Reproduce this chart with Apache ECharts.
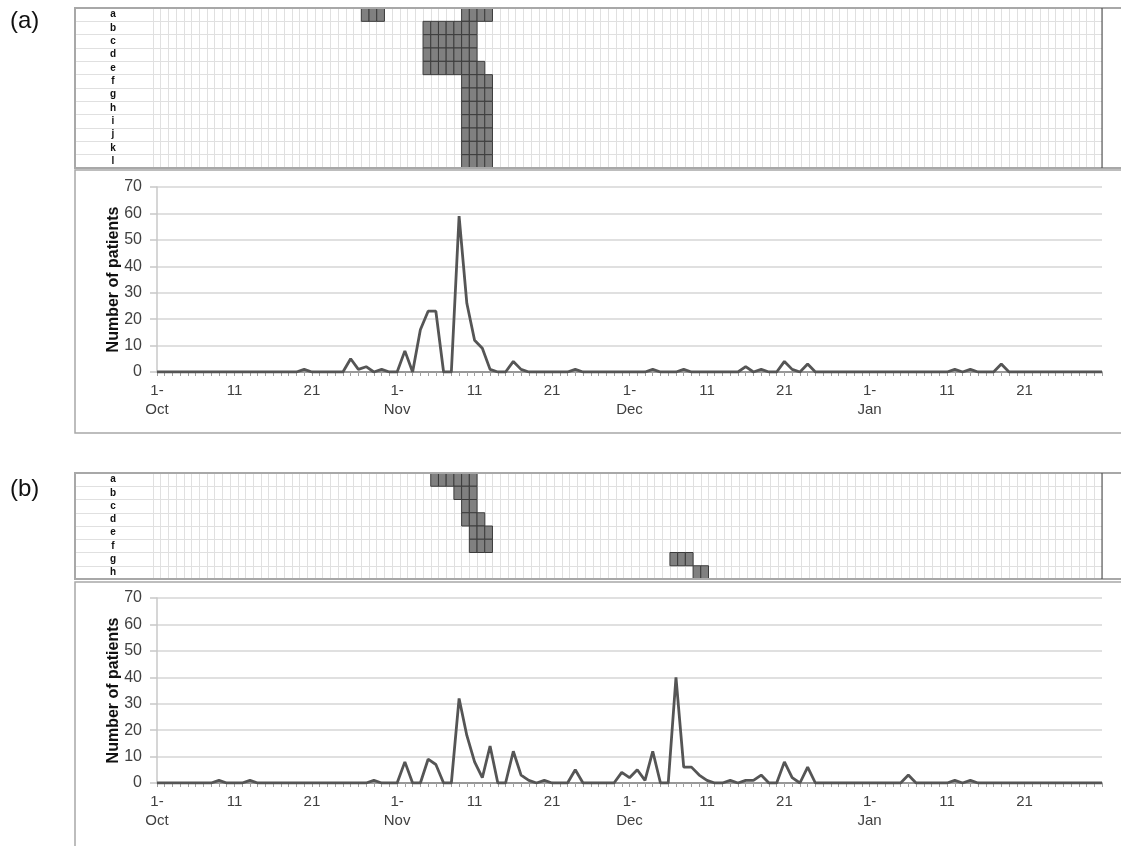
<!DOCTYPE html>
<html><head><meta charset="utf-8">
<script src="https://cdn.jsdelivr.net/npm/echarts@6/dist/echarts.min.js"></script>
<style>html,body{margin:0;padding:0;background:#fff}#c{width:1121px;height:846px}</style>
</head><body><div id="c"></div>
<script>
// ---------- data ----------
const months = ['Oct', 'Nov', 'Dec', 'Jan'];
const monthLengths = [31, 30, 31, 31];
const labelledDays = [1, 11, 21];
const yTicks = [0, 10, 20, 30, 40, 50, 60, 70];

// daily number of patients, 1 Oct .. 31 Jan (123 days)
const patientsA = [
  0,0,0,0,0,0,0,0,0,0, 0,0,0,0,0,0,0,0,0,1, 0,0,0,0,0,5,1,2,0,1, 0,
  0,8,0,16,23,23,0,0,59,26, 12,9,1,0,0,4,1,0,0,0, 0,0,0,1,0,0,0,0,0,0,
  0,0,0,1,0,0,0,1,0,0, 0,0,0,0,0,2,0,1,0,0, 4,1,0,3,0,0,0,0,0,0, 0,
  0,0,0,0,0,0,0,0,0,0, 0,1,0,1,0,0,0,3,0,0, 0,0,0,0,0,0,0,0,0,0, 0
];
const patientsB = [
  0,0,0,0,0,0,0,0,1,0, 0,0,1,0,0,0,0,0,0,0, 0,0,0,0,0,0,0,0,1,0, 0,
  0,8,0,0,9,7,0,0,32,18, 8,2,14,0,0,12,3,1,0,1, 0,0,0,5,0,0,0,0,0,4,
  2,5,1,12,0,0,40,6,6,3, 1,0,0,1,0,1,1,3,0,0, 8,2,0,6,0,0,0,0,0,0, 0,
  0,0,0,0,0,3,0,0,0,0, 0,1,0,1,0,0,0,0,0,0, 0,0,0,0,0,0,0,0,0,0, 0
];

// grid rows and the day indices (0 = 1 Oct) of the filled cells in each row
const rowsA = ['a','b','c','d','e','f','g','h','i','j','k','l'];
const cellDaysA = [
  [27,28,29,40,41,42,43],
  [35,36,37,38,39,40,41],
  [35,36,37,38,39,40,41],
  [35,36,37,38,39,40,41],
  [35,36,37,38,39,40,41,42],
  [40,41,42,43],
  [40,41,42,43],
  [40,41,42,43],
  [40,41,42,43],
  [40,41,42,43],
  [40,41,42,43],
  [40,41,42,43]
];
const rowsB = ['a','b','c','d','e','f','g','h'];
const cellDaysB = [
  [36,37,38,39,40,41],
  [39,40,41],
  [40,41],
  [40,41,42],
  [41,42,43],
  [41,42,43],
  [67,68,69],
  [70,71]
];

// ---------- build ----------
const days = [];
months.forEach((m, i) => { for (let d = 1; d <= monthLengths[i]; d++) days.push(d + '-' + m); });
const dayNum = c => +c.split('-')[0];
const dayLabel = c => dayNum(c) === 1 ? '1-\n' + c.split('-')[1] : String(dayNum(c));
const cellsOf = lists => { const out = []; lists.forEach((ds, r) => ds.forEach(d => out.push([d, r]))); return out; };

const FONT = '"Liberation Sans", Arial, sans-serif';
const W = 1121;
const panels = [
  { rows: rowsA, cells: cellsOf(cellDaysA), values: patientsA, heatTop: 8, heatH: 160, lineTop: 187, lineH: 185, boxTop: 170, boxBot: 433, tag: '(a)', tagY: 9 },
  { rows: rowsB, cells: cellsOf(cellDaysB), values: patientsB, heatTop: 473, heatH: 106, lineTop: 598, lineH: 185, boxTop: 582, boxBot: 852, tag: '(b)', tagY: 477 }
];

const grid = [], xAxis = [], yAxis = [], series = [], graphic = [];
const gridColor = '#e0e0e0';
panels.forEach((p, k) => {
  const g0 = grid.length;
  grid.push({ left: 153, right: W - 1102, top: p.heatTop, height: p.heatH });
  grid.push({ left: 75, width: 78, top: p.heatTop, height: p.heatH });
  grid.push({ left: 157, right: W - 1102, top: p.lineTop, height: p.lineH });

  xAxis.push({ type: 'category', gridIndex: g0, data: days, boundaryGap: true,
    axisLine: { show: false }, axisTick: { show: false }, axisLabel: { show: false },
    splitLine: { show: true, interval: 0, lineStyle: { color: gridColor, width: 1 } } });
  xAxis.push({ type: 'value', gridIndex: g0 + 1, show: false, min: 0, max: 1 });
  xAxis.push({ type: 'category', gridIndex: g0 + 2, data: days, boundaryGap: false,
    axisLine: { show: true, lineStyle: { color: '#808080', width: 1.5 } },
    axisTick: { show: true, interval: 0, length: 4, lineStyle: { color: '#a0a0a0' } },
    axisLabel: { interval: (i, c) => labelledDays.includes(dayNum(c)), formatter: dayLabel,
      fontFamily: FONT, fontSize: 15, color: '#404040', lineHeight: 19, margin: 9 },
    splitLine: { show: false } });

  yAxis.push({ type: 'category', gridIndex: g0, data: p.rows, inverse: true,
    axisLine: { show: false }, axisTick: { show: false },
    axisLabel: { align: 'center', margin: 40, fontFamily: FONT, fontSize: 10, fontWeight: 'bold', color: '#111' },
    splitLine: { show: true, interval: 0, lineStyle: { color: gridColor, width: 1 } } });
  yAxis.push({ type: 'category', gridIndex: g0 + 1, data: p.rows, inverse: true,
    axisLine: { show: false }, axisTick: { show: false }, axisLabel: { show: false },
    splitLine: { show: true, interval: 0, lineStyle: { color: gridColor, width: 1 } } });
  yAxis.push({ type: 'value', gridIndex: g0 + 2, min: yTicks[0], max: yTicks[yTicks.length - 1],
    interval: yTicks[1] - yTicks[0],
    name: 'Number of patients', nameLocation: 'middle', nameGap: 35, nameMoveOverlap: false,
    nameTextStyle: { fontFamily: FONT, fontSize: 16, fontWeight: 'bold', color: '#111' },
    axisLine: { show: true, lineStyle: { color: '#c8c8c8', width: 1.5 } },
    axisTick: { show: true, length: 7, lineStyle: { color: '#c8c8c8', width: 1.5 } },
    axisLabel: { fontFamily: FONT, fontSize: 16, color: '#404040', margin: 15 },
    splitLine: { show: true, lineStyle: { color: '#d6d6d6', width: 1.5 } } });

  series.push({ type: 'custom', xAxisIndex: g0, yAxisIndex: g0, data: p.cells, z: 3,
    renderItem: (params, api) => {
      const c = api.coord([api.value(0), api.value(1)]);
      const s = api.size([1, 1]);
      return { type: 'rect', shape: { x: c[0] - s[0] / 2, y: c[1] - s[1] / 2, width: s[0], height: s[1] },
        style: { fill: '#808080', stroke: '#3c3c3c', lineWidth: 1 } };
    } });
  series.push({ type: 'line', xAxisIndex: g0 + 2, yAxisIndex: g0 + 2, data: p.values, z: 4,
    symbol: 'none', lineStyle: { color: '#555', width: 2.8 }, itemStyle: { color: '#555' } });

  graphic.push({ type: 'rect', z: 10, silent: true,
    shape: { x: 75, y: p.heatTop, width: W + 20 - 75, height: p.heatH },
    style: { fill: null, stroke: '#a8a8a8', lineWidth: 2 } });
  graphic.push({ type: 'line', z: 10, silent: true,
    shape: { x1: 1102, y1: p.heatTop, x2: 1102, y2: p.heatTop + p.heatH },
    style: { stroke: '#404040', lineWidth: 1 } });
  graphic.push({ type: 'rect', z: 10, silent: true,
    shape: { x: 75, y: p.boxTop, width: W + 20 - 75, height: p.boxBot - p.boxTop },
    style: { fill: null, stroke: '#a8a8a8', lineWidth: 1.5 } });
  graphic.push({ type: 'text', z: 10, left: 10, top: p.tagY,
    style: { text: p.tag, font: '24px ' + FONT, fill: '#111' } });
});

const chart = echarts.init(document.getElementById('c'), null, { renderer: 'canvas' });
chart.setOption({ animation: false, backgroundColor: '#fff', grid, xAxis, yAxis, series, graphic });
</script>
</body></html>
